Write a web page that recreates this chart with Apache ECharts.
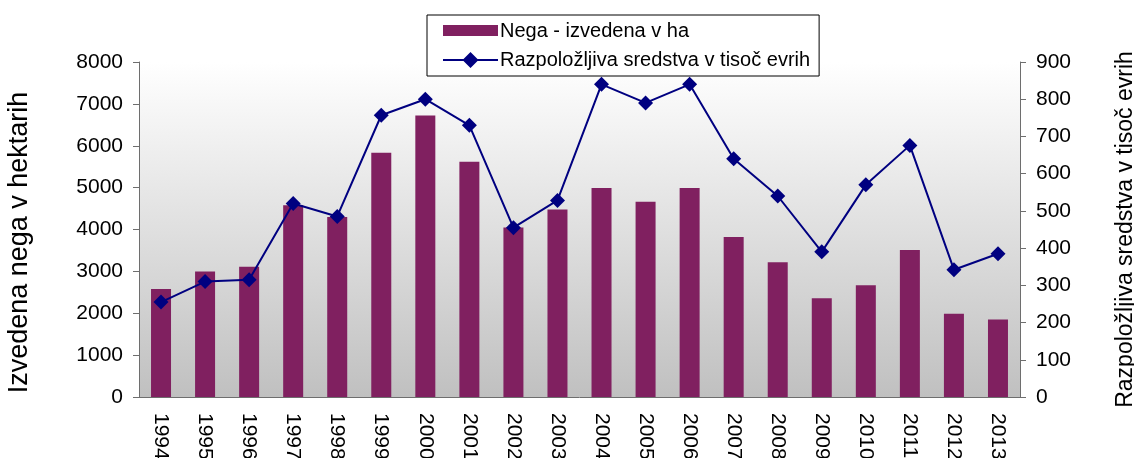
<!DOCTYPE html>
<html>
<head>
<meta charset="utf-8" />
<title>Nega - izvedena v ha</title>
<script src="https://cdn.jsdelivr.net/npm/echarts@6/dist/echarts.min.js"></script>
<style>
  html, body { margin: 0; padding: 0; background: #fff; }
  #main { width: 1134px; height: 458px; }
</style>
</head>
<body>
<div id="main"></div>
<script type="text/javascript">
// leta
var years = ['1994','1995','1996','1997','1998','1999','2000','2001','2002','2003',
             '2004','2005','2006','2007','2008','2009','2010','2011','2012','2013'];
// izvedena nega v ha
var negaHa = [2580, 3000, 3110, 4580, 4300, 5830, 6720, 5620, 4050, 4480,
              4990, 4660, 4990, 3820, 3220, 2360, 2670, 3510, 1990, 1850];
// sredstva v tisoc evrih
var sredstva = [255, 310, 315, 520, 485, 757, 800, 730, 455, 528,
                840, 790, 840, 640, 540, 390, 570, 676, 342, 385];
var leftTicks = { min: 0, max: 8000, interval: 1000 };
var rightTicks = { min: 0, max: 900, interval: 100 };

var font = 'Liberation Sans, Arial, sans-serif';
var axisColor = '#6e6e6e';
var plain = function (v) { return String(v); };

// ikone legende (pravokotnik in crta z rombom)
var barIcon = 'path://M0,0 L0.1,0 L0,0 Z M0,2 L55,2 L55,13 L0,13 Z M55,16 L54.9,16 L55,16 Z';
var lineIcon = 'path://M0,7 L20.5,7 L27.5,0 L34.5,7 L55,7 L55,9 L34.5,9 L27.5,16 L20.5,9 L0,9 Z';

var myChart = echarts.init(document.getElementById('main'));
var option = {
    animation: false,
    textStyle: { fontFamily: font, color: '#000' },
    grid: {
        left: 139, right: 114, top: 62, bottom: 61,
        outerBoundsMode: 'none',
        containLabel: false,
        show: true,
        borderWidth: 0,
        backgroundColor: new echarts.graphic.LinearGradient(0, 0, 0, 1, [
            { offset: 0, color: '#ffffff' },
            { offset: 1, color: '#c0c0c0' }
        ])
    },
    legend: {
        orient: 'vertical',
        left: 427, top: 15,
        padding: [6, 9, 6, 16],
        itemGap: 9,
        itemWidth: 55, itemHeight: 16,
        borderColor: '#000', borderWidth: 1,
        backgroundColor: '#fff',
        textStyle: { fontSize: 20, fontFamily: font, color: '#000', padding: [0, 0, 0, -3] },
        data: [
            { name: 'Nega - izvedena v ha', icon: barIcon },
            { name: 'Razpoložljiva sredstva v tisoč evrih', icon: lineIcon }
        ]
    },
    xAxis: {
        type: 'category',
        data: years,
        axisLine: { lineStyle: { color: axisColor } },
        axisTick: { lineStyle: { color: axisColor }, length: 6 },
        axisLabel: { rotate: -90, fontSize: 21, margin: 16, color: '#000' }
    },
    yAxis: [
        {
            type: 'value',
            min: leftTicks.min, max: leftTicks.max, interval: leftTicks.interval,
            name: 'Izvedena nega v hektarih',
            nameLocation: 'middle',
            nameRotate: 90,
            nameGap: 106,
            nameTextStyle: { fontSize: 27, color: '#000', padding: [0, 26, 0, 0] },
            axisLine: { show: true, lineStyle: { color: axisColor } },
            axisTick: { show: true, length: 6, lineStyle: { color: axisColor } },
            axisLabel: { fontSize: 21, margin: 16, color: '#000', formatter: plain },
            splitLine: { show: false }
        },
        {
            type: 'value',
            min: rightTicks.min, max: rightTicks.max, interval: rightTicks.interval,
            name: 'Razpoložljiva sredstva v tisoč evrih',
            nameLocation: 'middle',
            nameRotate: 90,
            nameGap: 94,
            nameTextStyle: { fontSize: 23, color: '#000' },
            axisLine: { show: true, lineStyle: { color: axisColor } },
            axisTick: { show: true, length: 6, lineStyle: { color: axisColor } },
            axisLabel: { fontSize: 21, margin: 16, color: '#000', formatter: plain },
            splitLine: { show: false }
        }
    ],
    series: [
        {
            name: 'Nega - izvedena v ha',
            type: 'bar',
            yAxisIndex: 0,
            barWidth: 20,
            itemStyle: { color: '#802060' },
            data: negaHa
        },
        {
            name: 'Razpoložljiva sredstva v tisoč evrih',
            type: 'line',
            yAxisIndex: 1,
            symbol: 'diamond',
            symbolSize: 15,
            lineStyle: { color: '#000080', width: 2 },
            itemStyle: { color: '#000080' },
            data: sredstva
        }
    ]
};
myChart.setOption(option);
</script>
</body>
</html>
